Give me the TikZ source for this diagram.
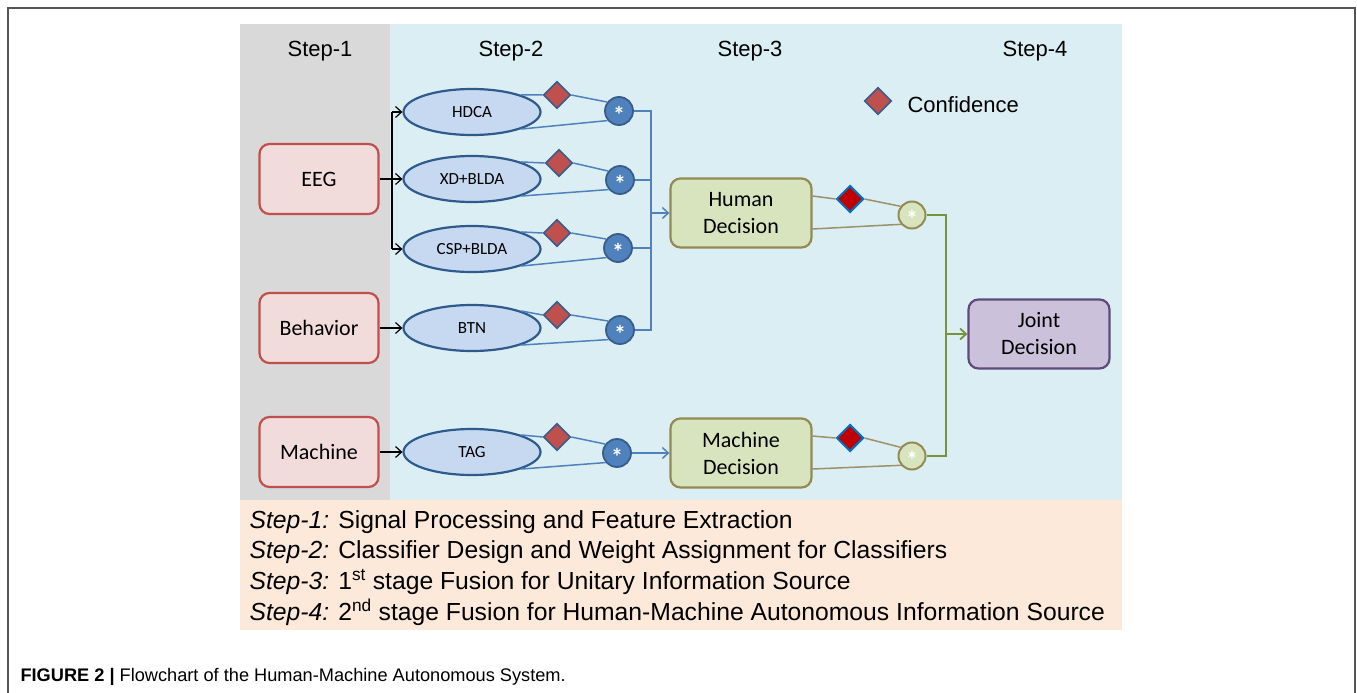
\documentclass[tikz,border=0pt]{standalone}
\usepackage{fontspec}
\setmainfont{Liberation Sans}
\newfontfamily\carlitofont{Carlito}
\usetikzlibrary{shapes.geometric,arrows.meta,calc}
\definecolor{panG}{HTML}{D9D9D9}
\definecolor{panB}{HTML}{DBEEF4}
\definecolor{panP}{HTML}{FDE9D9}
\definecolor{srcF}{HTML}{F2DCDB}
\definecolor{srcB}{HTML}{C0504D}
\definecolor{clsF}{HTML}{C6D9F1}
\definecolor{clsB}{HTML}{2F5B8C}
\definecolor{cirF}{HTML}{4F81BD}
\definecolor{cirB}{HTML}{385D8A}
\definecolor{decF}{HTML}{D7E4BD}
\definecolor{decB}{HTML}{948A54}
\definecolor{jntF}{HTML}{CCC1DA}
\definecolor{jntB}{HTML}{604A7B}
\definecolor{redD}{HTML}{C00000}
\definecolor{bluD}{HTML}{0070C0}
\definecolor{blueL}{HTML}{4F81BD}
\definecolor{oliveL}{HTML}{9C9169}
\definecolor{greenL}{HTML}{77933C}
\definecolor{frameC}{HTML}{555555}
\newcommand{\fusstar}{\raisebox{-12pt}[0pt][0pt]{*}}
\begin{document}
\begin{tikzpicture}[x=1pt,y=-1pt,
  hdr/.style={font=\fontsize{22}{26}\selectfont},
  src/.style={rectangle, rounded corners=10pt, draw=srcB, fill=srcF, line width=2.2pt,
    minimum width=119pt, minimum height=70pt, inner sep=0pt, font=\carlitofont\fontsize{22}{25}\selectfont},
  cls/.style={ellipse, draw=clsB, fill=clsF, line width=2.2pt,
    minimum width=137pt, minimum height=46pt, inner sep=0pt, font=\carlitofont\fontsize{17}{20}\selectfont},
  conf/.style={diamond, aspect=1, draw=cirB, fill=srcB, line width=1.6pt, minimum size=27pt, inner sep=0pt},
  confR/.style={diamond, aspect=1, draw=bluD, fill=redD, line width=2pt, minimum size=27pt, inner sep=0pt},
  fus/.style={circle, draw=cirB, fill=cirF, line width=1.8pt, minimum size=28pt, inner sep=0pt,
    text=white, font=\carlitofont\bfseries\fontsize{24}{24}\selectfont},
  fusG/.style={circle, draw=decB, fill=decF, line width=2pt, minimum size=27pt, inner sep=0pt,
    text=white, font=\carlitofont\bfseries\fontsize{24}{24}\selectfont},
  dec/.style={rectangle, rounded corners=10pt, draw=decB, fill=decF, line width=2.2pt,
    minimum width=141pt, minimum height=69pt, inner sep=0pt, align=center,
    font=\carlitofont\fontsize{22}{27}\selectfont},
  jnt/.style={dec, draw=jntB, fill=jntF},
  blk/.style={draw=black, line width=1.2pt},
  bl/.style={draw=blueL, line width=1.5pt},
  ol/.style={draw=oliveL, line width=1.5pt},
  gr/.style={draw=greenL, line width=1.8pt},
  tip/.style={-{Straight Barb[length=6pt,width=11pt]}},
  leg/.style={anchor=west, font=\fontsize{24.7}{28}\selectfont}
]
\useasboundingbox (0,0) rectangle (1357,693);
\fill[white] (0,0) rectangle (1357,693);
\draw[frameC, line width=2pt] (8,693) -- (8,8) -- (1355,8) -- (1355,693);
% panels
\fill[panG] (240,24) rectangle (390,500);
\fill[panB] (390,24) rectangle (1122,500);
\fill[panP] (240,500) rectangle (1122,630);
% headers
\node[hdr] (s1) at (320,51) {Step-1};
\node[hdr] (s2) at (511,51) {Step-2};
\node[hdr] (s3) at (750,51) {Step-3};
\node[hdr] (s4) at (1035,51) {Step-4};
% confidence legend
\node[conf] (cfl) at (878,101) {};
\node[anchor=west, font=\fontsize{22}{26}\selectfont] (cft) at (904,105) {Confidence};
% sources
\node[src] (eeg) at (319,179) {EEG};
\node[src] (beh) at (319,328) {Behavior};
\node[src] (mac) at (319,452) {Machine};
% classifiers
\node[cls] (hdca) at (472,112) {HDCA};
\node[cls] (xd) at (472,179) {XD+BLDA};
\node[cls] (csp) at (472,249) {CSP+BLDA};
\node[cls] (btn) at (472,328) {BTN};
\node[cls] (tag) at (472,452) {TAG};
% confidences
\node[conf] (d1) at (557,95) {};
\node[conf] (d2) at (559,163) {};
\node[conf] (d3) at (557,233) {};
\node[conf] (d4) at (557,315) {};
\node[conf] (d5) at (557,437) {};
% fusion circles
\node[fus] (c1) at (619,111) {\fusstar};
\node[fus] (c2) at (620,180) {\fusstar};
\node[fus] (c3) at (618,248) {\fusstar};
\node[fus] (c4) at (620,330) {\fusstar};
\node[fus] (c5) at (617,453) {\fusstar};
% decisions
\node[dec] (hd) at (741,213) {Human\\Decision};
\node[dec] (md) at (741,453) {Machine\\Decision};
\node[jnt] (jd) at (1039,334) {Joint\\Decision};
\node[confR] (hdD) at (850,199) {};
\node[confR] (mdD) at (850,438) {};
\node[fusG] (hc) at (912,215) {\fusstar};
\node[fusG] (mc) at (912,456) {\fusstar};
% step-1 -> step-2
\coordinate (eb) at (392,179);
\coordinate (bt) at (392,112);
\coordinate (bb) at (392,249);
\draw[blk] (eeg.east) -- (eb);
\draw[blk] (bt) -- (bb);
\draw[blk,tip] (bt) -- (hdca.west);
\draw[blk,tip] (eb) -- (xd.west);
\draw[blk,tip] (bb) -- (csp.west);
\draw[blk,tip] (beh.east) -- (btn.west);
\draw[blk,tip] (mac.east) -- (tag.west);
% classifier -> confidence -> fusion
\foreach \e/\d/\c in {hdca/d1/c1, xd/d2/c2, csp/d3/c3, btn/d4/c4, tag/d5/c5}{
  \draw[bl] (\e.north east) -- (\d.west);
  \draw[bl] (\d.east) -- (\c.143);
  \draw[bl] (\e.south east) -- (\c.220);
}
% blue bus
\coordinate (hb1) at (651,111);
\coordinate (hb4) at (651,330);
\draw[bl] (c1.east) -- (hb1) -- (hb4) -- (c4.east);
\draw[bl] (c2.east) -- (c2.east -| hb1);
\draw[bl] (c3.east) -- (c3.east -| hb1);
\draw[bl,tip] (hb1 |- hd.west) -- (hd.west);
\draw[bl,tip] (c5.east) -- (md.west);
% step-3 fusion
\foreach \b/\d/\c in {hd/hdD/hc, md/mdD/mc}{
  \draw[ol] ($(\b.east)+(0,-17)$) -- (\d.west);
  \draw[ol] (\d.east) -- (\c.143);
  \draw[ol] ($(\b.east)+(0,16)$) -- (\c.220);
}
% green bus
\coordinate (gt) at (946,215);
\coordinate (gb) at (946,456);
\draw[gr] (hc.east) -- (gt) -- (gb) -- (mc.east);
\draw[gr,tip] (gt |- jd.west) -- (jd.west);
% legend text
\node[leg] (l1) at (246,522) {\textit{Step-1:} Signal Processing and Feature Extraction};
\node[leg] (l2) at (246,552) {\textit{Step-2:} Classifier Design and Weight Assignment for Classifiers};
\node[leg] (l3) at (246,582) {\textit{Step-3:} 1\textsuperscript{st} stage Fusion for Unitary Information Source};
\node[leg] (l4) at (246,612) {\textit{Step-4:} 2\textsuperscript{nd} stage Fusion for Human-Machine Autonomous Information Source};
% caption
\node[anchor=west, font=\fontsize{18.2}{22}\selectfont] (cap) at (17,677)
  {\textbf{FIGURE 2 |} Flowchart of the Human-Machine Autonomous System.};
\end{tikzpicture}
\end{document}
